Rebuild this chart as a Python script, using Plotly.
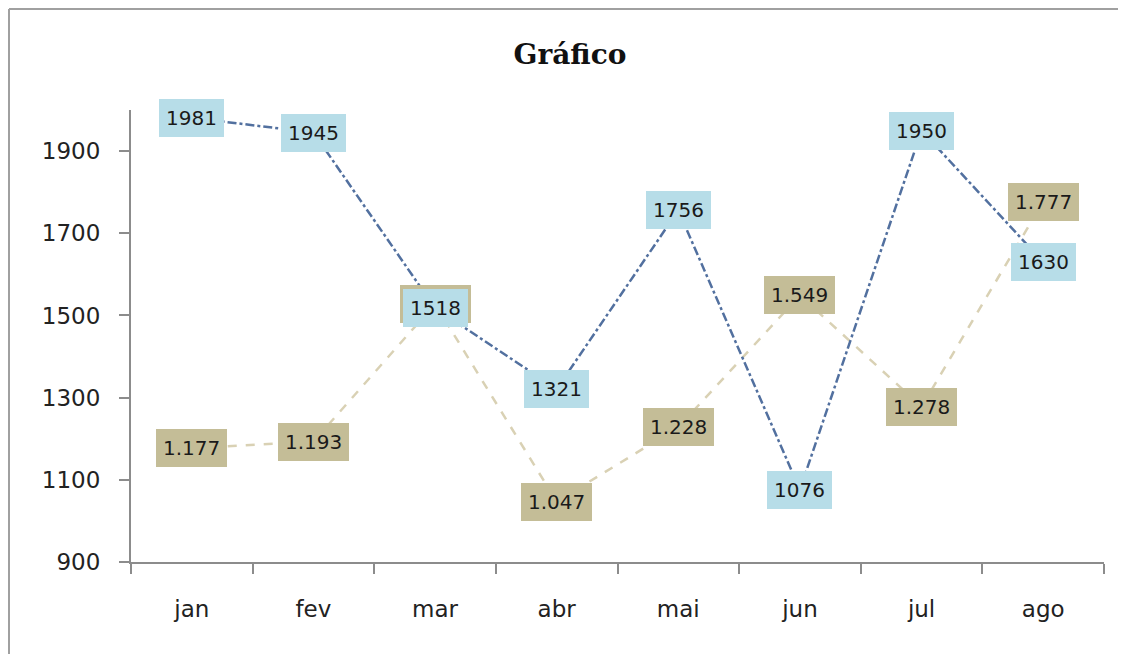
import plotly.graph_objects as go

months = ["jan", "fev", "mar", "abr", "mai", "jun", "jul", "ago"]
serie_azul = [1981, 1945, 1518, 1321, 1756, 1076, 1950, 1630]
serie_bege = [1177, 1193, 1528, 1047, 1228, 1549, 1278, 1777]
y_ticks = [900, 1100, 1300, 1500, 1700, 1900]

BLUE_LINE = "#52709F"
TAN_LINE = "#D9D1B4"
BLUE_BOX = "#B7DDE8"
TAN_BOX = "#C4BD97"
FONT = "DejaVu Sans"

W, H = 1118, 646
ML, MR, MT, MB = 123, 22, 102, 92
PW, PH = W - ML - MR, H - MT - MB

fig = go.Figure()
fig.add_trace(go.Scatter(x=months, y=serie_bege, mode="lines",
                         line=dict(color=TAN_LINE, width=2.5, dash="dash"),
                         showlegend=False, hoverinfo="skip"))
fig.add_trace(go.Scatter(x=months, y=serie_azul, mode="lines",
                         line=dict(color=BLUE_LINE, width=2.5, dash="dashdot"),
                         showlegend=False, hoverinfo="skip"))

annotations = []
for m, v in zip(months, serie_bege):
    annotations.append(dict(x=m, y=v, xref="x", yref="y",
                            text=f"{v:,}".replace(",", "."), showarrow=False,
                            bgcolor=TAN_BOX, borderpad=7, borderwidth=0,
                            font=dict(family=FONT, size=20, color="#1a1a1a")))
for m, v in zip(months, serie_azul):
    annotations.append(dict(x=m, y=v, xref="x", yref="y",
                            text=str(v), showarrow=False,
                            bgcolor=BLUE_BOX, borderpad=7, borderwidth=0,
                            font=dict(family=FONT, size=20, color="#1a1a1a")))

bx = -(ML - 1) / PW
by = 1 + (MT - 1) / PH
fig.update_layout(
    width=W, height=H,
    margin=dict(l=ML, r=MR, t=MT, b=MB),
    paper_bgcolor="white", plot_bgcolor="white",
    title=dict(text="<b>Gráfico</b>", x=562 / W, xanchor="center", xref="container",
               y=1 - 46 / H, yanchor="middle", yref="container",
               font=dict(family="DejaVu Serif", size=28, color="#111111")),
    annotations=annotations,
    shapes=[
        dict(type="line", xref="paper", yref="paper",
             x0=bx, x1=1 + MR / PW, y0=by, y1=by,
             line=dict(color="#A0A0A0", width=2)),
        dict(type="line", xref="paper", yref="paper",
             x0=bx, x1=bx, y0=by, y1=-MB / PH,
             line=dict(color="#A0A0A0", width=2)),
    ],
    xaxis=dict(type="category", range=[-0.5, 7.5], tickson="boundaries",
               showgrid=False, zeroline=False, showline=True,
               linecolor="#8C8C8C", linewidth=2,
               ticks="outside", ticklen=10, tickwidth=2, tickcolor="#8C8C8C",
               ticklabelstandoff=25,
               tickfont=dict(family=FONT, size=23, color="#222222")),
    yaxis=dict(range=[900, 2000], tickvals=y_ticks,
               showgrid=False, zeroline=False, showline=True,
               linecolor="#8C8C8C", linewidth=2,
               ticks="outside", ticklen=10, tickwidth=2, tickcolor="#8C8C8C",
               ticklabelstandoff=14,
               tickfont=dict(family=FONT, size=23, color="#222222")),
)

fig.write_html("out.html")
